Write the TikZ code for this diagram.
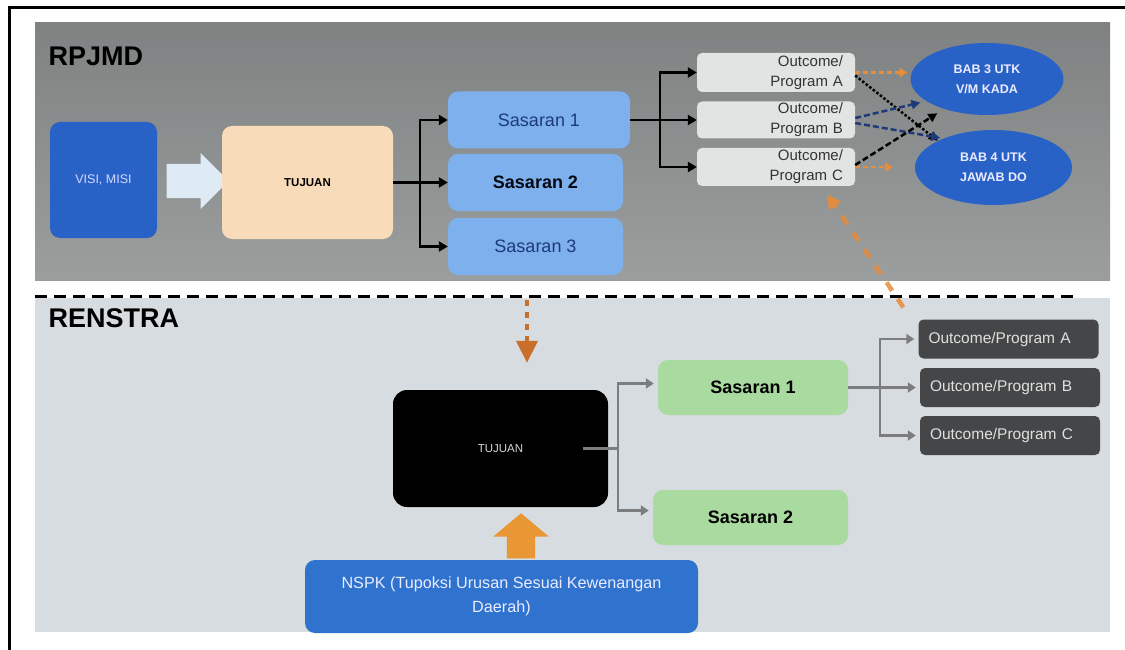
\documentclass[tikz,border=0pt]{standalone}
\usepackage{fontspec}
\setmainfont{Liberation Sans}
\usetikzlibrary{arrows.meta,shapes.geometric,shapes.arrows}

\definecolor{panelgrey}{HTML}{8A8D8D}
\definecolor{panellight}{HTML}{D6DCDF}
\definecolor{visiblue}{HTML}{2862C6}
\definecolor{nspkblue}{HTML}{2F73CF}
\definecolor{peach}{HTML}{F8DCB9}
\definecolor{sasblue}{HTML}{7EB0EE}
\definecolor{sasgreen}{HTML}{A9DBA1}
\definecolor{outlight}{HTML}{E2E4E4}
\definecolor{outdark}{HTML}{454647}
\definecolor{linegrey}{HTML}{7B7D7E}
\definecolor{orangeA}{HTML}{E68C3A}
\definecolor{orangeB}{HTML}{C96F2B}
\definecolor{navy}{HTML}{1E3A78}
\definecolor{arrowlight}{HTML}{DEEAF4}

\tikzset{
  box/.style={rounded corners=10pt, inner sep=0pt, align=center},
  sasbox/.style={box, fill=sasblue, minimum height=57pt, font=\fontsize{18}{20}\selectfont, text=navy},
  renbox/.style={box, fill=sasgreen, minimum height=55pt, font=\bfseries\fontsize{18}{20}\selectfont},
  outbox/.style={rounded corners=5pt, fill=outlight, inner sep=0pt, minimum width=158pt,
    text width=134pt, align=right, font=\fontsize{15}{20}\selectfont, text=black!80},
  darkbox/.style={rounded corners=5pt, fill=outdark, inner xsep=10pt, inner ysep=0pt,
    minimum height=39pt, text width=160pt, align=left, font=\fontsize{15.5}{18}\selectfont, text=black!12},
  babnode/.style={ellipse, fill=visiblue, inner sep=0pt, align=center, text=blue!8,
    font=\bfseries\fontsize{12.5}{20}\selectfont},
  blockarrow/.style={single arrow, inner xsep=0pt, minimum width=0pt, anchor=tip},
  blk/.style={line width=2.2pt, -{Triangle[length=9pt,width=10pt]}},
  gry/.style={line width=2.4pt, linegrey, -{Triangle[length=8pt,width=10pt]}, shorten >=4pt},
}

\begin{document}
\begin{tikzpicture}[x=1pt,y=-1pt]
\useasboundingbox (0,0) rectangle (1125,650);

% panels and frame
\fill[top color=panelgrey!92!black, bottom color=panelgrey!85!white] (35,23) rectangle (1110,280);
\fill[panellight] (35,298) rectangle (1110,632);
\draw[line width=3pt] (9,670) -- (9,8) -- (1125,8);
\draw[line width=3pt, dash pattern=on 12pt off 7pt] (35,296) -- (1078,296);

\node[anchor=west, font=\bfseries\fontsize{27}{30}\selectfont] (rpjmd) at (45,56) {RPJMD};
\node[anchor=west, font=\bfseries\fontsize{27}{30}\selectfont] (renstra) at (45,318) {RENSTRA};

% RPJMD part
\node[box, fill=visiblue, minimum width=107pt, minimum height=116pt, text=blue!15,
  font=\fontsize{12.5}{14}\selectfont] (visi) at (103.5,180) {VISI, MISI};
\node[blockarrow, fill=arrowlight, inner ysep=17pt, minimum height=62pt,
  single arrow head extend=11pt, single arrow tip angle=90] (visiarrow) at (229,181) {};
\node[box, fill=peach, minimum width=171pt, minimum height=113pt,
  font=\bfseries\fontsize{11.5}{14}\selectfont] (tujuanA) at (307.5,182.5) {TUJUAN};

\node[sasbox, minimum width=182pt] (sas1) at (539,120) {Sasaran 1};
\node[sasbox, minimum width=175pt, text=black!85!navy, font=\bfseries\fontsize{18}{20}\selectfont] (sas2) at (535.5,182.5) {Sasaran 2};
\node[sasbox, minimum width=175pt] (sas3) at (535.5,246.5) {Sasaran 3};

\draw[blk] (tujuanA.east) -- ++(27,0) |- (sas1.west);
\draw[blk] (tujuanA.east) -- (sas2.west);
\draw[blk] (tujuanA.east) -- ++(27,0) |- (sas3.west);

\node[outbox, minimum height=39pt] (outA) at (776,72.5) {Outcome/\\Program A};
\node[outbox, minimum height=37pt] (outB) at (776,120) {Outcome/\\Program B};
\node[outbox, minimum height=38pt] (outC) at (776,167) {Outcome/\\Program C};

\draw[blk] (sas1.east) -- ++(30,0) |- (outA.west);
\draw[blk] (sas1.east) -- (outB.west);
\draw[blk] (sas1.east) -- ++(30,0) |- (outC.west);

\node[babnode, minimum width=153pt, minimum height=72pt] (bab3) at (987,79) {BAB 3 UTK\\V/M KADA};
\node[babnode, minimum width=157pt, minimum height=75pt] (bab4) at (993.5,167.5) {BAB 4 UTK\\JAWAB DO};

\draw[orangeA, line width=2.5pt, dash pattern=on 5pt off 3pt, -{Triangle[length=8pt,width=9pt]}, shorten >=3pt]
  (outA.east) -- (bab3.west |- outA.east);
\draw[orangeA, line width=2.5pt, dash pattern=on 5pt off 3pt, -{Triangle[length=8pt,width=9pt]}, shorten >=22pt]
  (outC.east) -- (bab4.west |- outC.east);
\draw[black, line width=2.5pt, dotted, -{Triangle[length=9pt,width=9pt]}]
  ([yshift=-3pt]outA.east) -- (bab4.north west);
\draw[navy, line width=2.5pt, dash pattern=on 6pt off 3pt, -{Triangle[length=9pt,width=9pt]}, shorten >=6pt]
  ([yshift=2pt]outB.east) -- (bab3.200);
\draw[navy, line width=2.5pt, dash pattern=on 6pt off 3pt, -{Triangle[length=9pt,width=9pt]}, shorten >=3pt]
  ([yshift=-3pt]outB.east) -- (bab4.150);
\draw[black, line width=2.5pt, dash pattern=on 6pt off 3pt, -{Triangle[length=9pt,width=9pt]}, shorten >=8pt]
  ([yshift=2pt]outC.east) -- (bab3.215);

% RENSTRA part
\node[box, rounded corners=14pt, fill=black, minimum width=215pt, minimum height=117pt, text=white!85!black,
  font=\fontsize{11.5}{14}\selectfont] (tujuanB) at (500.5,448.5) {TUJUAN};
\node[box, fill=nspkblue, minimum width=393pt, minimum height=73pt, text=blue!8,
  font=\fontsize{16.2}{24}\selectfont] (nspk) at (501.5,596.5) {NSPK (Tupoksi Urusan Sesuai Kewenangan\\Daerah)};
\node[blockarrow, fill=orangeA!90!yellow, inner ysep=14pt, minimum height=45pt, rotate=90,
  single arrow head extend=13.5pt, single arrow tip angle=100] (nspkarrow) at (521,513) {};

\coordinate (drop) at (527,300);
\draw[orangeB, line width=4pt, dash pattern=on 6pt off 6pt, -{Triangle[length=22pt,width=21pt]}, shorten >=27pt]
  (drop) -- (tujuanB.north -| drop);

\node[renbox, minimum width=190pt] (ren1) at (753,387.5) {Sasaran 1};
\node[renbox, minimum width=195pt] (ren2) at (750.5,517.5) {Sasaran 2};

\draw[gry] ([xshift=-25pt]tujuanB.east) -- ++(35,0) |- ([yshift=4pt]ren1.west);
\draw[gry] ([xshift=-25pt]tujuanB.east) -- ++(35,0) |- ([yshift=7pt]ren2.west);

\node[darkbox] (dA) at (1008.5,339) {Outcome/Program A};
\node[darkbox] (dB) at (1010,387.5) {Outcome/Program B};
\node[darkbox] (dC) at (1010,435.5) {Outcome/Program C};

\draw[gry] (ren1.east) -- ++(32,0) |- (dA.west);
\draw[gry] (ren1.east) -- (dB.west);
\draw[gry] (ren1.east) -- ++(32,0) |- (dC.west);

\draw[orangeA, opacity=.85, line width=4.5pt, dash pattern=on 10pt off 10pt, -{Triangle[length=14pt,width=14pt]}]
  ([shift={(-15,-12)}]dA.north west) -- ([xshift=-28pt,yshift=-8pt]outC.south east);
\end{tikzpicture}
\end{document}
